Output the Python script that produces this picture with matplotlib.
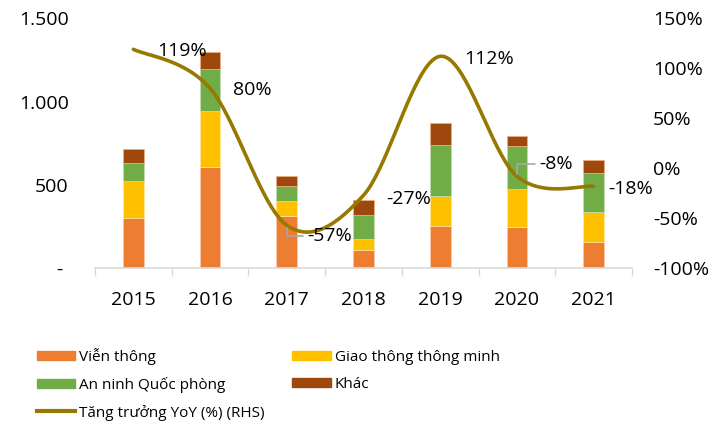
import numpy as np
import matplotlib
matplotlib.use("Agg")
import matplotlib.pyplot as plt
from matplotlib.patches import Patch
from matplotlib.lines import Line2D

plt.rcParams['font.family'] = ['Open Sans', 'DejaVu Sans']

years = ['2015', '2016', '2017', '2018', '2019', '2020', '2021']
vien_thong = [304, 606, 316, 112, 256, 250, 160]
giao_thong = [220, 338, 88, 66, 178, 226, 178]
an_ninh = [108, 250, 90, 142, 306, 256, 232]
khac = [86, 102, 62, 88, 130, 64, 82]
growth = [119, 80, -57, -27, 112, -8, -18]
growth_labels = ['119%', '80%', '-57%', '-27%', '112%', '-8%', '-18%']
# label offsets in pixels from the point
label_off = [(24, -2), (23, -2), (20, -11), (23, -4), (24, -3), (22, 12), (15, -3)]
leader = [False, False, True, False, False, True, False]

c_orange = '#ED7D31'
c_yellow = '#FFC000'
c_green = '#70AD47'
c_brown = '#9E480E'
c_line = '#977800'


def smooth(xs, ys, n=40):
    # bezier smoothing like excel "smoothed line"
    p = np.column_stack([xs, ys]).astype(float)
    out = []
    for i in range(len(p) - 1):
        p0 = p[i - 1] if i > 0 else p[i]
        p1, p2 = p[i], p[i + 1]
        p3 = p[i + 2] if i + 2 < len(p) else p[i + 1]
        c1 = p1 + (p2 - p0) / 6
        c2 = p2 - (p3 - p1) / 6
        t = np.linspace(0, 1, n)[:, None]
        seg = (1 - t) ** 3 * p1 + 3 * (1 - t) ** 2 * t * c1 + 3 * (1 - t) * t ** 2 * c2 + t ** 3 * p2
        out.append(seg if i == 0 else seg[1:])
    out = np.vstack(out)
    return out[:, 0], out[:, 1]


fig = plt.figure(figsize=(7.12, 4.25), dpi=100)
ax = fig.add_axes([95 / 712, 1 - 268.3 / 425, 537 / 712, 250 / 425])
x = np.arange(len(years))
w = 0.27

b1 = np.array(vien_thong)
b2 = b1 + np.array(giao_thong)
b3 = b2 + np.array(an_ninh)
ax.bar(x, vien_thong, w, color=c_orange, edgecolor='#F8CBAD', linewidth=0.5)
ax.bar(x, giao_thong, w, bottom=b1, color=c_yellow, edgecolor='#FFE699', linewidth=0.5)
ax.bar(x, an_ninh, w, bottom=b2, color=c_green, edgecolor='#C5E0B4', linewidth=0.5)
ax.bar(x, khac, w, bottom=b3, color=c_brown, edgecolor='#F4B183', linewidth=0.5)

ax.set_xlim(-0.5, len(years) - 0.5)
ax.set_ylim(0, 1500)
ax.set_yticks([0, 500, 1000, 1500])
ax.set_yticklabels(['- ', '500', '1.000', '1.500'])
ax.set_xticks(x)
ax.set_xticklabels(years)
ax.set_xticks(np.arange(-0.5, len(years)), minor=True)
ax.tick_params(axis='x', which='major', length=0, pad=16, labelsize=14, colors='#000000')
ax.tick_params(axis='x', which='minor', length=6, width=1, color='#D9D9D9')
ax.tick_params(axis='y', length=0, pad=19, labelsize=14)
for s in ['top', 'left', 'right']:
    ax.spines[s].set_visible(False)
ax.spines['bottom'].set_color('#D9D9D9')
ax.spines['bottom'].set_linewidth(1.2)

ax2 = ax.twinx()
ax2.set_ylim(-100, 150)
ax2.set_yticks(np.arange(-100, 151, 50))
ax2.set_yticklabels([f'{v}%' for v in range(-100, 151, 50)])
ax2.tick_params(axis='y', length=0, pad=15, labelsize=14)
for s in ['top', 'left', 'right', 'bottom']:
    ax2.spines[s].set_visible(False)

sx, sy = smooth(x, growth)
ax2.plot(sx, sy, color=c_line, lw=2.6, solid_capstyle='round')

for i in range(len(years)):
    dx, dy = label_off[i]
    if leader[i]:
        ax2.annotate(growth_labels[i], xy=(x[i], growth[i]), xytext=(dx, dy),
                     textcoords='offset pixels', ha='left', va='center', fontsize=14,
                     arrowprops=dict(arrowstyle='-', color='#A6A6A6', lw=1.2,
                                     connectionstyle='angle,angleA=0,angleB=90,rad=0',
                                     relpos=(0, 0.5), shrinkA=1, shrinkB=2))
    else:
        ax2.annotate(growth_labels[i], xy=(x[i], growth[i]), xytext=(dx, dy),
                     textcoords='offset pixels', ha='left', va='center', fontsize=14)

handles = [
    Patch(color=c_orange, label='Viễn thông'),
    Patch(color=c_green, label='An ninh Quốc phòng'),
    Line2D([], [], color=c_line, lw=3, label='Tăng trưởng YoY (%) (RHS)'),
    Patch(color=c_yellow, label='Giao thông thông minh'),
    Patch(color=c_brown, label='Khác'),
]
fig.legend(handles=handles, ncol=2, loc='upper left', bbox_to_anchor=(37 / 712, 1 - 348 / 425),
           frameon=False, borderpad=0, borderaxespad=0, fontsize=11, handlelength=2.5,
           handleheight=0.6, handletextpad=0.27, labelspacing=0.77, columnspacing=1.8)

fig.savefig('out.png', dpi=100)
